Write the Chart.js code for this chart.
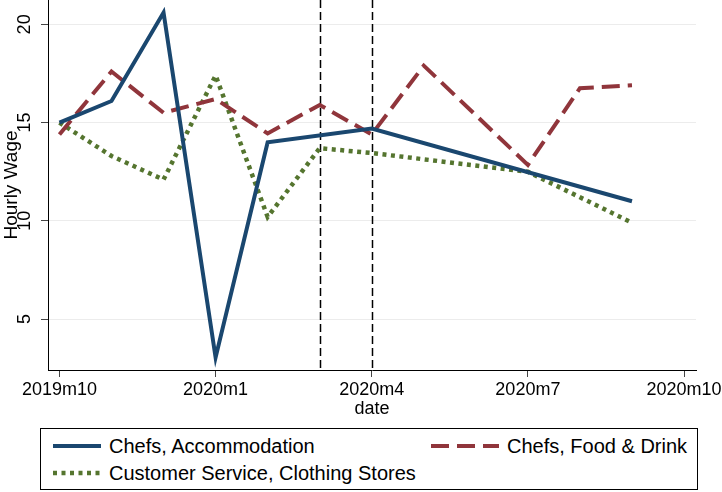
<!DOCTYPE html>
<html>
<head>
<meta charset="utf-8">
<script src="https://cdn.jsdelivr.net/npm/chart.js@4.4.1/dist/chart.umd.min.js"></script>
<style>
  body { margin: 0; background: #fff; }
  #wrap { position: relative; width: 722px; height: 492px; }
  #chartBox { position: absolute; left: 0; top: 0; width: 722px; height: 420px; }
  #legend {
    position: absolute; left: 40px; top: 428px; width: 658px; height: 62px;
    border: 1px solid #000; box-sizing: border-box;
    font-family: "Liberation Sans", Arial, sans-serif; font-size: 20px; color: #000;
  }
  .item { position: absolute; display: flex; align-items: center; white-space: nowrap; }
  .item svg { margin-right: 8px; }
</style>
</head>
<body>
<div id="wrap">
  <div id="chartBox"><canvas id="wageChart"></canvas></div>
  <div id="legend"></div>
</div>
<script>
// months since 2019m10
const months = [0, 1, 2, 3, 4, 5, 6, 7, 8, 9, 10, 11];
const accommodation = [15.0, 16.1, 20.6, 3.05, 14.0, null, 14.7, null, null, null, null, 11.0];
const foodDrink = [14.4, 17.6, 15.5, 16.2, 14.45, 15.9, 14.4, 17.9, null, 12.85, 16.75, 16.9];
const clothingStores = [15.0, 13.3, 12.1, 17.4, 10.2, 13.7, 13.45, null, null, 12.5, null, 9.9];

const seriesNames = ['Chefs, Accommodation', 'Chefs, Food & Drink', 'Customer Service, Clothing Stores'];
const xTickValues = [0, 3, 6, 9, 12];
const xTickLabels = ['2019m10', '2020m1', '2020m4', '2020m7', '2020m10'];
const yTickValues = [5, 10, 15, 20];
const markerMonths = [5, 6]; // 2020m3, 2020m4

const FONT = '"Liberation Sans", Arial, sans-serif';

const toPoints = (vals) => months
  .map((m, i) => ({ x: m, y: vals[i] }))
  .filter(p => p.y !== null);

const styles = [
  { color: '#1a476f', width: 4, dash: [] },
  { color: '#90353b', width: 4, dash: [18, 8] },
  { color: '#55752f', width: 4.5, dash: [4, 4.5] }
];

// dashed vertical lines + rotated y tick labels (Stata style)
const extras = {
  id: 'extras',
  beforeDatasetsDraw(chart) {
    const { ctx, chartArea, scales } = chart;
    ctx.save();
    ctx.strokeStyle = '#000';
    ctx.lineWidth = 1.5;
    ctx.setLineDash([8, 4]);
    markerMonths.forEach(m => {
      const x = Math.round(scales.x.getPixelForValue(m)) + 0.5;
      ctx.beginPath();
      ctx.moveTo(x, chartArea.top);
      ctx.lineTo(x, chartArea.bottom);
      ctx.stroke();
    });
    ctx.restore();
  },
  afterDraw(chart) {
    const { ctx, scales } = chart;
    ctx.save();
    ctx.fillStyle = '#000';
    ctx.font = '18px ' + FONT;
    ctx.textAlign = 'center';
    ctx.textBaseline = 'middle';
    yTickValues.forEach(v => {
      const y = scales.y.getPixelForValue(v);
      ctx.save();
      ctx.translate(25, y);
      ctx.rotate(-Math.PI / 2);
      ctx.fillText(String(v), 0, 0);
      ctx.restore();
    });
    ctx.restore();
  }
};

const ctx = document.getElementById('wageChart').getContext('2d');
new Chart(ctx, {
  type: 'line',
  data: {
    datasets: [accommodation, foodDrink, clothingStores].map((vals, i) => ({
      label: seriesNames[i],
      data: toPoints(vals),
      borderColor: styles[i].color,
      backgroundColor: styles[i].color,
      borderWidth: styles[i].width,
      borderDash: styles[i].dash,
      borderCapStyle: 'butt',
      pointRadius: 0,
      tension: 0,
      fill: false
    }))
  },
  options: {
    responsive: true,
    maintainAspectRatio: false,
    animation: false,
    events: [],
    layout: { padding: { left: 0, right: 26, top: 0, bottom: 0 } },
    plugins: { legend: { display: false }, tooltip: { enabled: false } },
    scales: {
      x: {
        type: 'linear',
        min: -0.22,
        max: 12.23,
        afterBuildTicks: (scale) => { scale.ticks = xTickValues.map(v => ({ value: v })); },
        afterFit: (scale) => { scale.height = 50; scale.paddingLeft = 0; scale.paddingRight = 0; },
        ticks: {
          autoSkip: false,
          maxRotation: 0,
          padding: 2,
          color: '#000',
          font: { family: FONT, size: 18 },
          callback: (v) => xTickLabels[xTickValues.indexOf(v)]
        },
        grid: { drawOnChartArea: false, tickLength: 7, tickColor: '#444' },
        border: { color: '#000', width: 1 },
        title: {
          display: true, text: 'date', color: '#000',
          font: { family: FONT, size: 18 },
          padding: { top: 0, bottom: 0 }
        }
      },
      y: {
        min: 2.41,
        max: 21.24,
        afterBuildTicks: (scale) => { scale.ticks = yTickValues.map(v => ({ value: v })); },
        afterFit: (scale) => { scale.width = 48; },
        ticks: { display: false },
        grid: { color: '#ececec', lineWidth: 1, tickLength: 7, tickColor: '#444' },
        border: { color: '#000', width: 1 },
        title: {
          display: true, text: 'Hourly Wage', color: '#000',
          font: { family: FONT, size: 19 },
          padding: { top: 0, bottom: 0 }
        }
      }
    }
  },
  plugins: [extras]
});

// legend
const legendPos = [
  { left: 12, top: 17, w: 48 },
  { left: 390, top: 17, w: 68 },
  { left: 12, top: 44, w: 48 }
];
const legend = document.getElementById('legend');
seriesNames.forEach((name, i) => {
  const p = legendPos[i];
  const s = styles[i];
  const item = document.createElement('div');
  item.className = 'item';
  item.style.left = p.left + 'px';
  item.style.top = (p.top - 12) + 'px';
  item.style.height = '24px';
  const dash = s.dash.length ? `stroke-dasharray="${s.dash.join(' ')}"` : '';
  item.innerHTML = `<svg width="${p.w}" height="8"><line x1="0" y1="4" x2="${p.w}" y2="4" stroke="${s.color}" stroke-width="${s.width}" ${dash}/></svg><span>${name.replace('&', '&amp;')}</span>`;
  legend.appendChild(item);
});
</script>
</body>
</html>
